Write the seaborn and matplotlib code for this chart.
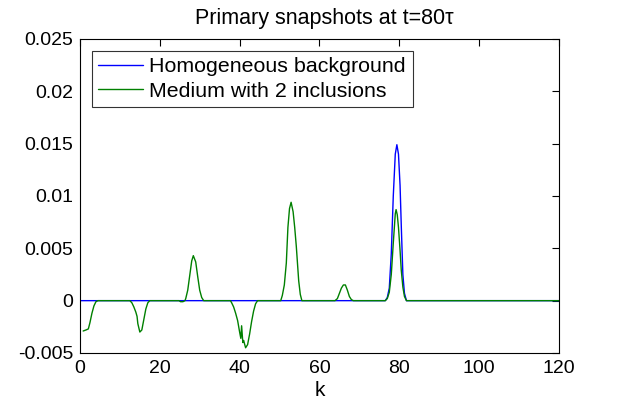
import numpy as np
import pandas as pd
import matplotlib
matplotlib.use("Agg")
import matplotlib.pyplot as plt
import seaborn as sns

sns.set_style("white")
plt.rcParams['font.family'] = ['Liberation Sans', 'DejaVu Sans']
plt.rcParams['text.color'] = 'black'
plt.rcParams['axes.labelcolor'] = 'black'

# homogeneous background: flat except the direct arrival near k=79
k_blue = [0, 76.5, 77, 77.5, 78, 78.5, 79, 79.4, 79.8, 80.2, 80.5, 80.9, 81.3, 81.8, 120]
u_blue = [0, 0, 0.0003, 0.0012, 0.0045, 0.0100, 0.0140, 0.0149, 0.0140, 0.0110,
          0.0072, 0.0025, 0.0007, 0, 0]

# medium with 2 inclusions
k_green = [0.8, 1.5, 2.1, 2.5, 3, 3.5, 4, 4.5,
           12.5, 13, 13.5, 14, 14.3, 14.5, 15, 15.5, 16, 16.5, 17, 17.5,
           24.8, 25.2, 25.8, 26.3,
           26.5, 27, 27.5, 28, 28.4, 29, 29.5, 30, 30.5, 31,
           37.7, 38, 38.5, 39, 39.5, 40, 40.3, 40.5, 40.8, 41, 41.5, 42, 42.5, 43, 43.5, 44, 44.5,
           50.3, 50.7, 51.2, 51.7, 52.1, 52.5, 52.9, 53.4, 53.8, 54.2, 54.8, 55.2, 55.6,
           63.9, 64.5, 65, 65.5, 66, 66.5, 67, 67.5, 68, 68.5,
           76.5, 77, 77.5, 78, 78.5, 79, 79.2, 79.5, 79.8, 80.2, 80.5, 80.9, 81.3, 81.8,
           120]
u_green = [-0.0029, -0.0028, -0.0027, -0.0021, -0.0012, -0.0005, -0.0001, 0,
           0, -0.0002, -0.0006, -0.0011, -0.0015, -0.0022, -0.0030, -0.0028, -0.0018, -0.0008, -0.0002, 0,
           0, -0.0001, -0.0001, 0,
           0.0002, 0.0010, 0.0024, 0.0038, 0.0043, 0.0037, 0.0023, 0.0010, 0.0003, 0,
           0, -0.0002, -0.0006, -0.0012, -0.0019, -0.0030, -0.0036, -0.0024, -0.0040, -0.0038,
           -0.0045, -0.0042, -0.0032, -0.0020, -0.0010, -0.0003, 0,
           0, 0.0005, 0.0015, 0.0036, 0.0070, 0.0088, 0.0094, 0.0085, 0.0070, 0.0052, 0.0019, 0.0006, 0,
           0, 0.0002, 0.0007, 0.0012, 0.0015, 0.0015, 0.0010, 0.0004, 0.0001, 0,
           0, 0.0002, 0.0008, 0.0025, 0.0055, 0.0083, 0.0087, 0.0082, 0.0070, 0.0048,
           0.0029, 0.0013, 0.0004, 0,
           0]

df_b = pd.DataFrame({"k": k_blue, "u": u_blue})
df_g = pd.DataFrame({"k": k_green, "u": u_green})

fig = plt.figure(figsize=(6.18, 4.07), dpi=100)
ax = fig.add_axes([0.1294, 0.1327, 0.775, 0.7715])

sns.lineplot(data=df_b, x="k", y="u", color=(0, 0, 1), lw=1.0,
             label="Homogeneous background", ax=ax, sort=False)
sns.lineplot(data=df_g, x="k", y="u", color=(0, 0.5, 0), lw=1.0,
             label="Medium with 2 inclusions", ax=ax, sort=False)

ax.set_xlim(0, 120)
ax.set_ylim(-0.005, 0.025)
ax.set_xticks([0, 20, 40, 60, 80, 100, 120])
ax.set_yticks([-0.005, 0, 0.005, 0.01, 0.015, 0.02, 0.025])
ax.set_yticklabels(["-0.005", "0", "0.005", "0.01", "0.015", "0.02", "0.025"])
ax.tick_params(direction="in", length=5, width=0.8, top=True, right=True,
               labelsize=14, colors="black", pad=5)
for s in ax.spines.values():
    s.set_color("black")
    s.set_linewidth(0.8)

ax.set_xlabel("k", fontsize=15, labelpad=3, color="black")
ax.set_ylabel("")
ax.set_title("Primary snapshots at t=80τ", fontsize=15.5, pad=11, color="black", x=0.51)

leg = ax.legend(loc="upper left", fontsize=15.4, frameon=True, fancybox=False,
                borderaxespad=0.55, handlelength=2.1, handletextpad=0.3,
                borderpad=0.3, labelspacing=0.25)
leg.get_frame().set_edgecolor("black")
leg.get_frame().set_linewidth(0.8)
for t in leg.get_texts():
    t.set_color("black")

fig.savefig("out.png", dpi=100)
